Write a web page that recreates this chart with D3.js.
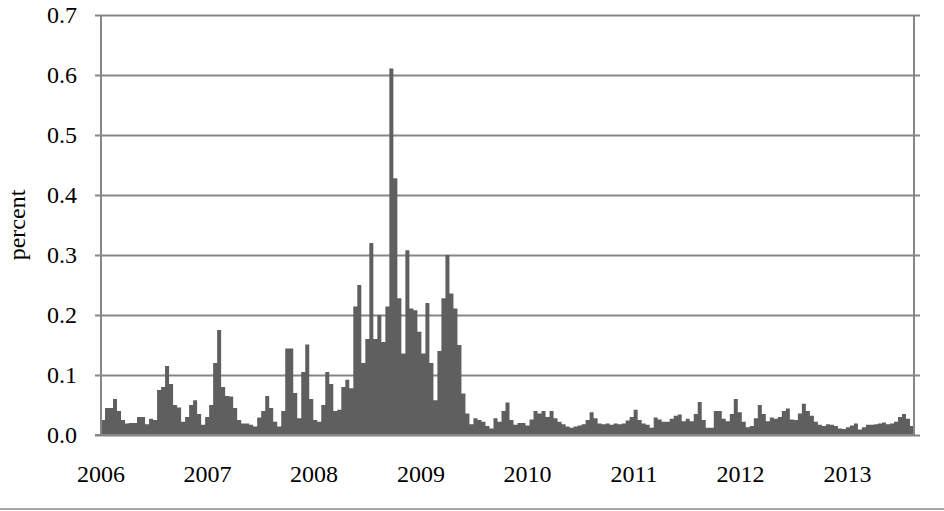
<!DOCTYPE html>
<html>
<head>
<meta charset="utf-8">
<script src="https://cdn.jsdelivr.net/npm/d3@7"></script>
<style>
  html, body { margin: 0; padding: 0; background: #fff; }
  svg { display: block; }
  .lbl { font-family: "Liberation Serif", "Times New Roman", Times, serif; fill: #000; }
</style>
</head>
<body>
<div id="chart"></div>
<script>
// biweekly-ish readings, Jan 2006 .. Aug 2013 (percent)
const values2006 = [0.025, 0.045, 0.045, 0.06, 0.04, 0.025, 0.019, 0.02, 0.02, 0.03,
  0.03, 0.018, 0.027, 0.025, 0.075, 0.08, 0.115, 0.085, 0.05, 0.046,
  0.022, 0.03, 0.05, 0.058, 0.035, 0.017, 0.03, 0.05, 0.12, 0.175];
const values2007 = [0.08, 0.065, 0.064, 0.045, 0.025, 0.019, 0.019, 0.017, 0.014, 0.029,
  0.04, 0.065, 0.045, 0.022, 0.014, 0.04, 0.144, 0.144, 0.07, 0.028,
  0.105, 0.151, 0.06, 0.025, 0.022, 0.05, 0.105, 0.085, 0.04, 0.042];
const values2008 = [0.08, 0.092, 0.078, 0.214, 0.25, 0.12, 0.16, 0.32, 0.16, 0.2,
  0.155, 0.214, 0.611, 0.428, 0.228, 0.136, 0.308, 0.211, 0.208, 0.172,
  0.136, 0.22, 0.12, 0.058, 0.14, 0.228, 0.30, 0.236, 0.211, 0.15,
  0.069, 0.036, 0.018, 0.028, 0.025, 0.022, 0.015, 0.011, 0.028, 0.022];
const values2010 = [0.04, 0.054, 0.025, 0.017, 0.02, 0.02, 0.016, 0.026, 0.04, 0.036,
  0.04, 0.03, 0.04, 0.028, 0.022, 0.018, 0.014, 0.012, 0.014, 0.016,
  0.018, 0.025, 0.038, 0.028, 0.019, 0.018, 0.019, 0.017, 0.019, 0.018,
  0.019, 0.024, 0.03, 0.042, 0.025, 0.019, 0.017, 0.012, 0.029, 0.026,
  0.022, 0.022, 0.027, 0.032, 0.034, 0.023, 0.027, 0.023, 0.035, 0.055,
  0.025, 0.012];
const values2012 = [0.012, 0.04, 0.04, 0.027, 0.023, 0.035, 0.06, 0.038, 0.022, 0.013,
  0.015, 0.028, 0.05, 0.035, 0.023, 0.029, 0.027, 0.03, 0.04, 0.044,
  0.026, 0.025, 0.036, 0.052, 0.04, 0.032, 0.022, 0.017, 0.015, 0.018,
  0.017, 0.015, 0.011, 0.01, 0.013, 0.016, 0.019, 0.009, 0.013, 0.017,
  0.017, 0.018, 0.019, 0.021, 0.018, 0.019, 0.022, 0.03, 0.035, 0.027,
  0.015];
const yearLabels = ['2006', '2007', '2008', '2009', '2010', '2011', '2012', '2013'];
const yTicks = [0, 0.1, 0.2, 0.3, 0.4, 0.5, 0.6, 0.7];

const values = [].concat(values2006, values2007, values2008, values2010, values2012);

const width = 944, height = 511;
const margin = {top: 15, right: 30, bottom: 76, left: 101};

const start = new Date(2006, 0, 1);
const period = 13.72 * 864e5; // one reading step in ms
const end = new Date(+start + values.length * period);
const data = values.map((v, i) => ({date: new Date(+start + i * period), v: v}));
// closing point so the last step reaches the right edge
const steps = data.concat([{date: end, v: values[values.length - 1]}]);

const svg = d3.select('#chart')
  .append('svg')
  .attr('width', width)
  .attr('height', height);

const x = d3.scaleTime()
  .domain([start, end])
  .range([margin.left, width - margin.right]);

const y = d3.scaleLinear()
  .domain([0, 0.7])
  .range([height - margin.bottom, margin.top]);

// gridlines + tick labels
const yAxis = d3.axisLeft(y)
  .tickValues(yTicks)
  .tickSize(-(width - margin.right - margin.left) - 6)
  .tickFormat(d3.format('.1f'))
  .tickPadding(18);

const gy = svg.append('g')
  .attr('transform', `translate(${margin.left - 6},0)`)
  .call(yAxis);
gy.select('.domain').remove();
gy.selectAll('.tick line')
  .attr('transform', 'translate(6,0)')
  .attr('x1', -6)
  .attr('stroke', '#868686')
  .attr('stroke-width', 2);
gy.selectAll('.tick text')
  .attr('class', 'lbl')
  .attr('x', -18)
  .style('font-size', '24px');

// columns drawn as one stepped area so no seams show between them
const area = d3.area()
  .curve(d3.curveStepAfter)
  .x(d => x(d.date))
  .y0(y(0))
  .y1(d => y(d.v));

svg.append('path')
  .datum(steps)
  .attr('d', area)
  .attr('fill', '#5f5f5f');

// frame: left axis, right border, baseline
const x0 = margin.left, x1 = width - margin.right;
svg.append('line')
  .attr('x1', x0).attr('x2', x0)
  .attr('y1', y(0.7)).attr('y2', y(0) + 1)
  .attr('stroke', '#868686').attr('stroke-width', 2);
svg.append('line')
  .attr('x1', x1).attr('x2', x1)
  .attr('y1', y(0.7)).attr('y2', y(0))
  .attr('stroke', '#868686').attr('stroke-width', 2);
svg.append('line')
  .attr('x1', x0 - 6).attr('x2', x1)
  .attr('y1', y(0)).attr('y2', y(0))
  .attr('stroke', '#868686').attr('stroke-width', 2);

// year labels
svg.append('g')
  .selectAll('text')
  .data(yearLabels)
  .enter()
    .append('text')
    .attr('class', 'lbl')
    .attr('x', d => x(new Date(+d, 0, 1)))
    .attr('y', 482)
    .attr('text-anchor', 'middle')
    .style('font-size', '24px')
    .text(d => d);

svg.append('text')
  .attr('class', 'lbl')
  .attr('transform', `translate(25,${(y(0) + y(0.7)) / 2}) rotate(-90)`)
  .attr('text-anchor', 'middle')
  .style('font-size', '24px')
  .text('percent');

// outer bottom rule
svg.append('line')
  .attr('x1', 0).attr('x2', width)
  .attr('y1', 509).attr('y2', 509)
  .attr('stroke', '#a6a6a6').attr('stroke-width', 2);
</script>
</body>
</html>
